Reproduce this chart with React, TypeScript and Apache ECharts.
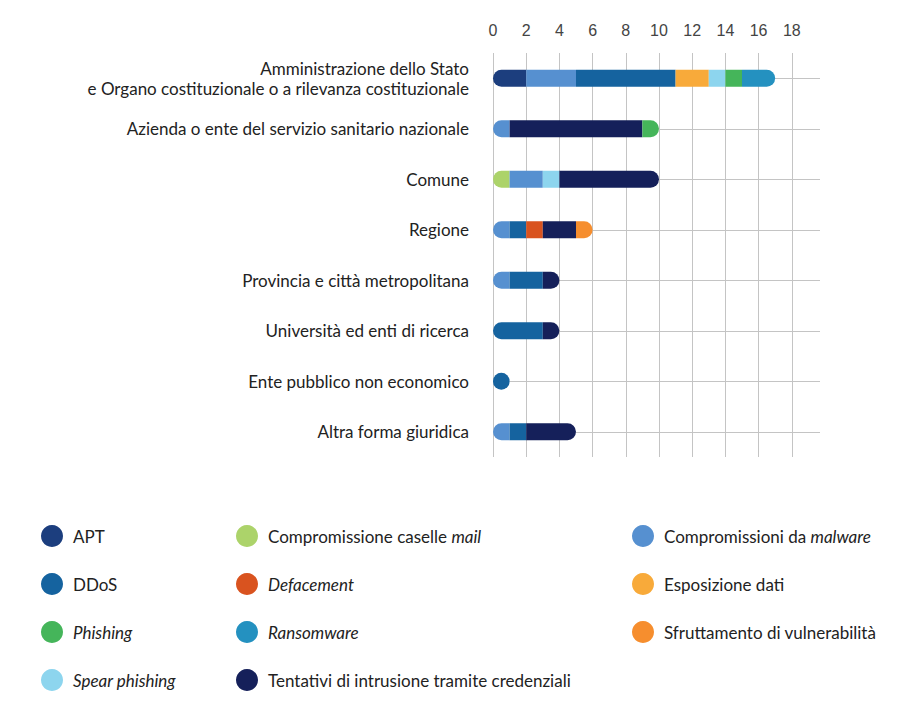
import React, { useEffect, useRef } from "react";
import * as echarts from "echarts";

const categories = [
  "Amministrazione dello Stato\ne Organo costituzionale o a rilevanza costituzionale",
  "Azienda o ente del servizio sanitario nazionale",
  "Comune",
  "Regione",
  "Provincia e città metropolitana",
  "Università ed enti di ricerca",
  "Ente pubblico non economico",
  "Altra forma giuridica",
];

const xTicks = [0, 2, 4, 6, 8, 10, 12, 14, 16, 18];

// stack order (left to right)
const apt = [2, 0, 0, 0, 0, 0, 0, 0];
const caselleMail = [0, 0, 1, 0, 0, 0, 0, 0];
const malware = [3, 1, 2, 1, 1, 0, 0, 1];
const ddos = [6, 0, 0, 1, 2, 3, 1, 1];
const defacement = [0, 0, 0, 1, 0, 0, 0, 0];
const esposizione = [2, 0, 0, 0, 0, 0, 0, 0];
const spearPhishing = [1, 0, 1, 0, 0, 0, 0, 0];
const tentativi = [0, 8, 6, 2, 1, 1, 0, 3];
const phishing = [1, 1, 0, 0, 0, 0, 0, 0];
const sfruttamento = [0, 0, 0, 1, 0, 0, 0, 0];
const ransomware = [2, 0, 0, 0, 0, 0, 0, 0];

const seriesDefs = [
  { name: "APT", data: apt, color: "#1c3e7e" },
  { name: "Compromissione caselle mail", data: caselleMail, color: "#acd36a" },
  { name: "Compromissioni da malware", data: malware, color: "#5690d0" },
  { name: "DDoS", data: ddos, color: "#15639f" },
  { name: "Defacement", data: defacement, color: "#d9531f" },
  { name: "Esposizione dati", data: esposizione, color: "#f8aa3a" },
  { name: "Spear phishing", data: spearPhishing, color: "#8dd5ee" },
  { name: "Tentativi di intrusione tramite credenziali", data: tentativi, color: "#15205a" },
  { name: "Phishing", data: phishing, color: "#45b55a" },
  { name: "Sfruttamento di vulnerabilità", data: sfruttamento, color: "#f68e2e" },
  { name: "Ransomware", data: ransomware, color: "#2491c0" },
];

const legendCol1 = ["APT", "DDoS", "Phishing", "Spear phishing"];
const legendCol2 = ["Compromissione caselle mail", "Defacement", "Ransomware", "Tentativi di intrusione tramite credenziali"];
const legendCol3 = ["Compromissioni da malware", "Esposizione dati", "Sfruttamento di vulnerabilità"];

const legendLabels: Record<string, string> = {
  "APT": "{n|APT}",
  "DDoS": "{n|DDoS}",
  "Phishing": "{i|Phishing}",
  "Spear phishing": "{i|Spear phishing}",
  "Compromissione caselle mail": "{n|Compromissione caselle }{i|mail}",
  "Defacement": "{i|Defacement}",
  "Ransomware": "{i|Ransomware}",
  "Tentativi di intrusione tramite credenziali": "{n|Tentativi di intrusione tramite credenziali}",
  "Compromissioni da malware": "{n|Compromissioni da }{i|malware}",
  "Esposizione dati": "{n|Esposizione dati}",
  "Sfruttamento di vulnerabilità": "{n|Sfruttamento di vulnerabilità}",
};

const X_MAX = 19.7;
const FONT = "Lato, 'Noto Sans', sans-serif";
const TICK_FONT = "'Liberation Sans', Arial, sans-serif";
const R = 8.5;

export default function App() {
  const ref = useRef<HTMLDivElement>(null);

  useEffect(() => {
    if (!ref.current) return;
    const chart = echarts.init(ref.current, null, { renderer: "svg" });

    const n = categories.length;
    const firstIdx: number[] = [];
    const lastIdx: number[] = [];
    const totals: number[] = [];
    for (let c = 0; c < n; c++) {
      let f = -1, l = -1, t = 0;
      seriesDefs.forEach((s, si) => {
        if (s.data[c] > 0) {
          if (f < 0) f = si;
          l = si;
          t += s.data[c];
        }
      });
      firstIdx.push(f);
      lastIdx.push(l);
      totals.push(t);
    }

    const series: any[] = seriesDefs.map((s, si) => ({
      name: s.name,
      type: "bar",
      stack: "total",
      barWidth: 17,
      itemStyle: { color: s.color },
      z: 3,
      data: s.data.map((v, c) => {
        if (!v) return { value: "-" };
        const isFirst = firstIdx[c] === si;
        const isLast = lastIdx[c] === si;
        return {
          value: v,
          itemStyle: {
            borderRadius: [isFirst ? R : 0, isLast ? R : 0, isLast ? R : 0, isFirst ? R : 0],
          },
        };
      }),
    }));

    series[0].markLine = {
      silent: true,
      symbol: ["none", "none"],
      z: 1,
      label: { show: false },
      lineStyle: { color: "#c4c4c4", width: 1, type: "solid" },
      data: categories.map((c, i) => [
        { coord: [totals[i], c] },
        { coord: [X_MAX, c] },
      ]),
    };

    const legendBase = {
      orient: "vertical",
      icon: "circle",
      itemWidth: 22,
      itemHeight: 22,
      itemGap: 26,
      padding: 0,
      selectedMode: false,
      formatter: (name: string) => legendLabels[name] || name,
      textStyle: {
        fontFamily: FONT,
        fontSize: 17,
        color: "#222",
        padding: [0, 0, 0, 5],
        rich: {
          n: { fontFamily: FONT, fontSize: 17, color: "#222" },
          i: { fontFamily: FONT, fontSize: 17, color: "#222", fontStyle: "italic" },
        },
      },
    };

    chart.setOption({
      animation: false,
      backgroundColor: "#ffffff",
      textStyle: { fontFamily: FONT },
      grid: { left: 493, right: 81, top: 53, bottom: 257, containLabel: false },
      xAxis: {
        type: "value",
        position: "top",
        min: 0,
        max: X_MAX,
        interval: 2,
        axisLine: { show: false },
        axisTick: { show: false },
        axisLabel: {
          fontFamily: TICK_FONT,
          fontSize: 16,
          color: "#444",
          margin: 15,
          showMaxLabel: false,
          formatter: (v: number) => (xTicks.includes(v) ? String(v) : ""),
        },
        splitLine: {
          show: true,
          showMaxLine: false,
          lineStyle: { color: "#c4c4c4", width: 1 },
        },
      },
      yAxis: {
        type: "category",
        inverse: true,
        data: categories,
        axisLine: { show: false },
        axisTick: { show: false },
        splitLine: { show: false },
        axisLabel: {
          fontFamily: FONT,
          fontSize: 17,
          lineHeight: 20,
          color: "#222",
          margin: 24,
          align: "right",
        },
      },
      legend: [
        { ...legendBase, left: 41, top: 525, data: legendCol1 },
        { ...legendBase, left: 236, top: 525, data: legendCol2 },
        { ...legendBase, left: 632, top: 525, data: legendCol3 },
      ],
      series,
    });

    return () => chart.dispose();
  }, []);

  return (
    <div
      ref={ref}
      style={{ position: "absolute", left: 0, top: 0, width: 901, height: 714 }}
    />
  );
}
